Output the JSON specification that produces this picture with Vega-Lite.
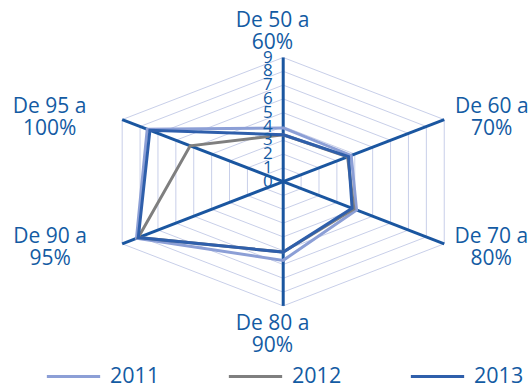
{
  "$schema": "https://vega.github.io/schema/vega-lite/v6.json",
  "width": 529,
  "height": 385,
  "autosize": "none",
  "padding": 0,
  "background": "white",
  "config": {"view": {"stroke": null}, "font": "Open Sans"},
  "datasets": {
    "series": [
      {"year": "2011", "k": 0, "v": 3.9},
      {"year": "2011", "k": 1, "v": 3.8},
      {"year": "2011", "k": 2, "v": 4.1},
      {"year": "2011", "k": 3, "v": 5.7},
      {"year": "2011", "k": 4, "v": 8.2},
      {"year": "2011", "k": 5, "v": 7.6},
      {"year": "2012", "k": 0, "v": 3.4},
      {"year": "2012", "k": 1, "v": 3.6},
      {"year": "2012", "k": 2, "v": 3.95},
      {"year": "2012", "k": 3, "v": 5.1},
      {"year": "2012", "k": 4, "v": 8.1},
      {"year": "2012", "k": 5, "v": 5.2},
      {"year": "2013", "k": 0, "v": 3.4},
      {"year": "2013", "k": 1, "v": 3.65},
      {"year": "2013", "k": 2, "v": 3.85},
      {"year": "2013", "k": 3, "v": 5.1},
      {"year": "2013", "k": 4, "v": 8.1},
      {"year": "2013", "k": 5, "v": 7.45}
    ],
    "grid": [
      {"v": 1, "k": [0, 1, 2, 3, 4, 5]},
      {"v": 2, "k": [0, 1, 2, 3, 4, 5]},
      {"v": 3, "k": [0, 1, 2, 3, 4, 5]},
      {"v": 4, "k": [0, 1, 2, 3, 4, 5]},
      {"v": 5, "k": [0, 1, 2, 3, 4, 5]},
      {"v": 6, "k": [0, 1, 2, 3, 4, 5]},
      {"v": 7, "k": [0, 1, 2, 3, 4, 5]},
      {"v": 8, "k": [0, 1, 2, 3, 4, 5]},
      {"v": 9, "k": [0, 1, 2, 3, 4, 5]}
    ],
    "spokes": [
      {"k": 0, "v": 9}, {"k": 1, "v": 9}, {"k": 2, "v": 9},
      {"k": 3, "v": 9}, {"k": 4, "v": 9}, {"k": 5, "v": 9}
    ],
    "ticks": [
      {"t": 0}, {"t": 1}, {"t": 2}, {"t": 3}, {"t": 4},
      {"t": 5}, {"t": 6}, {"t": 7}, {"t": 8}, {"t": 9}
    ],
    "labels": [
      {"k": 0, "v": 9, "label": "De 50 a\u00a0\u00a0\n60%"},
      {"k": 1, "v": 9, "label": "De 60 a\u00a0\u00a0\n70%"},
      {"k": 2, "v": 9, "label": "De 70 a\u00a0\u00a0\n80%"},
      {"k": 3, "v": 9, "label": "De 80 a\u00a0\u00a0\n90%"},
      {"k": 4, "v": 9, "label": "De 90 a\u00a0\u00a0\n95%"},
      {"k": 5, "v": 9, "label": "De 95 a\u00a0\u00a0\n100%"}
    ]
  },
  "layer": [
    {
      "data": {"name": "grid"},
      "transform": [
        {"flatten": ["k"]},
        {"calculate": "datum.v*sin(datum.k*PI/3)", "as": "x"},
        {"calculate": "datum.v*cos(datum.k*PI/3)", "as": "y"}
      ],
      "mark": {"type": "line", "interpolate": "linear-closed", "stroke": "#c8cfe9", "strokeWidth": 1},
      "encoding": {
        "x": {"field": "x", "type": "quantitative", "scale": {"domain": [-13.708, 11.897], "nice": false, "zero": false}, "axis": null},
        "y": {"field": "y", "type": "quantitative", "scale": {"domain": [-14.732, 13.167], "nice": false, "zero": false}, "axis": null},
        "detail": {"field": "v", "type": "nominal"},
        "order": {"field": "k", "type": "quantitative"}
      }
    },
    {
      "data": {"name": "spokes"},
      "transform": [
        {"calculate": "datum.v*sin(datum.k*PI/3)", "as": "x"},
        {"calculate": "datum.v*cos(datum.k*PI/3)", "as": "y"},
        {"calculate": "0", "as": "c"}
      ],
      "mark": {"type": "rule", "stroke": "#1a56a0", "strokeWidth": 3},
      "encoding": {
        "x": {"field": "c", "type": "quantitative"},
        "y": {"field": "c", "type": "quantitative"},
        "x2": {"field": "x"},
        "y2": {"field": "y"}
      }
    },
    {
      "data": {"name": "series"},
      "transform": [
        {"calculate": "datum.v*sin(datum.k*PI/3)", "as": "x"},
        {"calculate": "datum.v*cos(datum.k*PI/3)", "as": "y"}
      ],
      "mark": {"type": "line", "interpolate": "linear-closed", "strokeWidth": 3},
      "encoding": {
        "x": {"field": "x", "type": "quantitative"},
        "y": {"field": "y", "type": "quantitative"},
        "order": {"field": "k", "type": "quantitative"},
        "color": {
          "field": "year", "type": "nominal",
          "scale": {"domain": ["2011", "2012", "2013"], "range": ["#8c9fd6", "#7f7f7f", "#2f5fab"]},
          "legend": {
            "title": null, "orient": "none", "direction": "horizontal",
            "legendX": 45, "legendY": 348, "padding": 0,
            "symbolType": "stroke", "symbolSize": 2841, "symbolStrokeWidth": 3,
            "labelFontSize": 21.5, "labelFontWeight": 500, "labelColor": "#135ba3", "labelOffset": 8,
            "columnPadding": 62, "labelFont": "Open Sans"
          }
        }
      }
    },
    {
      "data": {"name": "ticks"},
      "transform": [{"calculate": "0", "as": "c"}],
      "mark": {"type": "text", "align": "right", "baseline": "middle", "dx": -10.5, "fontSize": 17, "fontWeight": 500, "color": "#135ba3"},
      "encoding": {
        "x": {"field": "c", "type": "quantitative"},
        "y": {"field": "t", "type": "quantitative"},
        "text": {"field": "t", "type": "quantitative"}
      }
    },
    {
      "data": {"name": "labels"},
      "transform": [
        {"filter": "datum.k == 0"},
        {"calculate": "datum.v*sin(datum.k*PI/3)", "as": "x"},
        {"calculate": "datum.v*cos(datum.k*PI/3)", "as": "y"}
      ],
      "mark": {"type": "text", "align": "center", "baseline": "alphabetic", "lineBreak": "\n", "lineHeight": 22, "fontSize": 21, "fontWeight": 500, "color": "#135ba3", "dx": -10.7, "dy": -30.8},
      "encoding": {"x": {"field": "x", "type": "quantitative"}, "y": {"field": "y", "type": "quantitative"}, "text": {"field": "label", "type": "nominal"}}
    },
    {
      "data": {"name": "labels"},
      "transform": [
        {"filter": "datum.k == 1"},
        {"calculate": "datum.v*sin(datum.k*PI/3)", "as": "x"},
        {"calculate": "datum.v*cos(datum.k*PI/3)", "as": "y"}
      ],
      "mark": {"type": "text", "align": "center", "baseline": "alphabetic", "lineBreak": "\n", "lineHeight": 22, "fontSize": 21, "fontWeight": 500, "color": "#135ba3", "dx": 47.5, "dy": -6.9},
      "encoding": {"x": {"field": "x", "type": "quantitative"}, "y": {"field": "y", "type": "quantitative"}, "text": {"field": "label", "type": "nominal"}}
    },
    {
      "data": {"name": "labels"},
      "transform": [
        {"filter": "datum.k == 2"},
        {"calculate": "datum.v*sin(datum.k*PI/3)", "as": "x"},
        {"calculate": "datum.v*cos(datum.k*PI/3)", "as": "y"}
      ],
      "mark": {"type": "text", "align": "center", "baseline": "alphabetic", "lineBreak": "\n", "lineHeight": 22, "fontSize": 21, "fontWeight": 500, "color": "#135ba3", "dx": 47, "dy": -1.1},
      "encoding": {"x": {"field": "x", "type": "quantitative"}, "y": {"field": "y", "type": "quantitative"}, "text": {"field": "label", "type": "nominal"}}
    },
    {
      "data": {"name": "labels"},
      "transform": [
        {"filter": "datum.k == 3"},
        {"calculate": "datum.v*sin(datum.k*PI/3)", "as": "x"},
        {"calculate": "datum.v*cos(datum.k*PI/3)", "as": "y"}
      ],
      "mark": {"type": "text", "align": "center", "baseline": "alphabetic", "lineBreak": "\n", "lineHeight": 22, "fontSize": 21, "fontWeight": 500, "color": "#135ba3", "dx": -10.7, "dy": 24.1},
      "encoding": {"x": {"field": "x", "type": "quantitative"}, "y": {"field": "y", "type": "quantitative"}, "text": {"field": "label", "type": "nominal"}}
    },
    {
      "data": {"name": "labels"},
      "transform": [
        {"filter": "datum.k == 4"},
        {"calculate": "datum.v*sin(datum.k*PI/3)", "as": "x"},
        {"calculate": "datum.v*cos(datum.k*PI/3)", "as": "y"}
      ],
      "mark": {"type": "text", "align": "center", "baseline": "alphabetic", "lineBreak": "\n", "lineHeight": 22, "fontSize": 21, "fontWeight": 500, "color": "#135ba3", "dx": -72, "dy": -1.1},
      "encoding": {"x": {"field": "x", "type": "quantitative"}, "y": {"field": "y", "type": "quantitative"}, "text": {"field": "label", "type": "nominal"}}
    },
    {
      "data": {"name": "labels"},
      "transform": [
        {"filter": "datum.k == 5"},
        {"calculate": "datum.v*sin(datum.k*PI/3)", "as": "x"},
        {"calculate": "datum.v*cos(datum.k*PI/3)", "as": "y"}
      ],
      "mark": {"type": "text", "align": "center", "baseline": "alphabetic", "lineBreak": "\n", "lineHeight": 22, "fontSize": 21, "fontWeight": 500, "color": "#135ba3", "dx": -72.5, "dy": -6.9},
      "encoding": {"x": {"field": "x", "type": "quantitative"}, "y": {"field": "y", "type": "quantitative"}, "text": {"field": "label", "type": "nominal"}}
    }
  ]
}
